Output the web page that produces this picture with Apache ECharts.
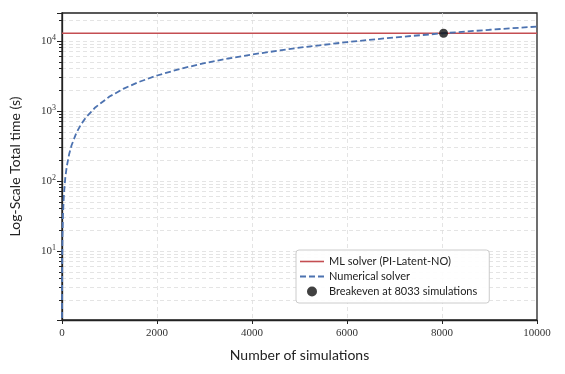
<!DOCTYPE html>
<html>
<head>
<meta charset="utf-8">
<script src="https://cdn.jsdelivr.net/npm/echarts@6/dist/echarts.min.js"></script>
<style>
  html, body { margin: 0; padding: 0; background: #fff; }
  #chart { width: 565px; height: 374px; }
</style>
</head>
<body>
<div id="chart"></div>
<script>
// values
const simCounts = [0.7, 2, 5, 10, 20, 40, 70, 100, 150, 200, 300, 400, 500, 700, 1000, 1300, 1600, 2000, 2500, 3000, 3500, 4000, 5000, 6000, 7000, 8033, 9000, 10000]
const numericalTime = [1.1, 3.2, 8, 16, 32, 64, 112, 160, 240, 320, 480, 640, 800, 1120, 1600, 2080, 2560, 3200, 4000, 4800, 5600, 6400, 8000, 9600, 11200, 12850, 14400, 16000]
const mlRange = [0, 10000]
const mlTime = 12850
const breakeven = [8033, 12850]
const xTicks = [0, 2000, 4000, 6000, 8000, 10000]

const labelFont = 'Lato'
const tickFont = 'Liberation Serif'
const gridLine = { color: '#ddd', type: [4, 3], width: 0.8 }

// legend icons drawn as short line samples
const solidIcon = 'path://M0,0 H24 V1.6 H0 Z'
const dashIcon = 'path://M0,0 H6 V1.8 H0 Z M9,0 H15 V1.8 H9 Z M18,0 H24 V1.8 H18 Z'

const chart = echarts.init(document.getElementById('chart'))

const option = {
  backgroundColor: '#fff',
  animation: false,
  grid: {
    left: 62, right: 28, top: 13, bottom: 54,
    show: true, borderColor: '#222', borderWidth: 1.3
  },
  legend: {
    orient: 'vertical',
    left: 296, top: 250,
    padding: [6, 12, 6, 4],
    itemGap: 4,
    itemWidth: 24, itemHeight: 10,
    backgroundColor: 'rgba(255,255,255,0.9)',
    borderColor: '#ccc', borderWidth: 1, borderRadius: 3,
    textStyle: { fontFamily: labelFont, fontSize: 11, color: '#222' },
    data: [
      { name: 'ML solver (PI-Latent-NO)', icon: solidIcon },
      { name: 'Numerical solver', icon: dashIcon },
      { name: 'Breakeven at 8033 simulations', icon: 'circle', itemStyle: { color: '#111' } }
    ]
  },
  xAxis: {
    type: 'value',
    min: xTicks[0], max: xTicks[xTicks.length - 1], interval: 2000,
    name: 'Number of simulations',
    nameLocation: 'middle', nameGap: 28,
    nameTextStyle: { fontFamily: labelFont, fontSize: 14, color: '#222' },
    axisLine: { lineStyle: { color: '#222', width: 1.3 } },
    axisTick: { show: true, length: 4, lineStyle: { color: '#222' } },
    axisLabel: {
      fontFamily: tickFont, fontSize: 11, color: '#333', margin: 8,
      formatter: v => String(v)
    },
    splitLine: { show: true, showMinLine: false, showMaxLine: false, lineStyle: gridLine }
  },
  yAxis: {
    type: 'log', logBase: 10,
    min: 1.03, max: 25000,
    name: 'Log-Scale Total time (s)',
    nameLocation: 'middle', nameGap: 40,
    nameTextStyle: { fontFamily: labelFont, fontSize: 14, color: '#222' },
    axisLine: { lineStyle: { color: '#222', width: 1.3 } },
    axisTick: { show: true, length: 5, lineStyle: { color: '#222' } },
    minorTick: { show: true, splitNumber: 9, length: 3, lineStyle: { color: '#222' } },
    minorSplitLine: { show: true, lineStyle: gridLine },
    splitLine: { show: true, showMinLine: false, showMaxLine: false, lineStyle: gridLine },
    axisLabel: {
      margin: 6,
      showMinLabel: false, showMaxLabel: false,
      formatter: function (v) {
        const e = Math.round(Math.log10(v))
        if (Math.abs(Math.pow(10, e) - v) > 1e-6 * v) return ''
        return '{b|10}{s|' + e + '}'
      },
      rich: {
        b: { fontFamily: tickFont, fontSize: 11, color: '#333' },
        s: { fontFamily: tickFont, fontSize: 8, color: '#333', verticalAlign: 'top', padding: [0, 0, 6, 0] }
      }
    }
  },
  series: [
    {
      name: 'ML solver (PI-Latent-NO)',
      type: 'line',
      symbol: 'none',
      data: mlRange.map(n => [n, mlTime]),
      lineStyle: { color: '#c44e52', width: 1.5 },
      itemStyle: { color: '#c44e52' }
    },
    {
      name: 'Numerical solver',
      type: 'line',
      symbol: 'none',
      data: simCounts.map((n, i) => [n, numericalTime[i]]),
      lineStyle: { color: '#4c72b0', width: 1.8, type: [6, 3] },
      itemStyle: { color: '#4c72b0' }
    },
    {
      name: 'Breakeven at 8033 simulations',
      type: 'scatter',
      symbolSize: 9,
      data: [breakeven],
      itemStyle: { color: '#111' },
      z: 5
    }
  ]
}

chart.setOption(option)
</script>
</body>
</html>
